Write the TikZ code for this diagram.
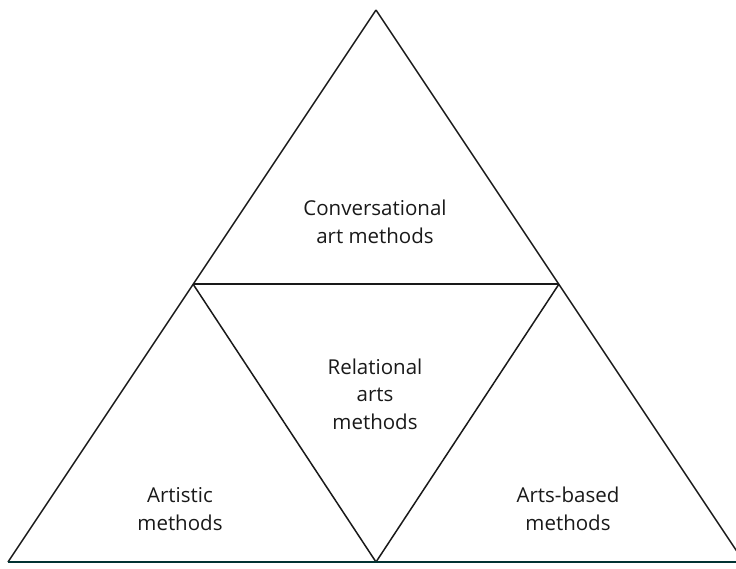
\documentclass[tikz,border=0pt]{standalone}
\usepackage{fontspec}
\setmainfont{Open Sans}
\tikzset{
  edge/.style={line width=1.5pt, color=black!90},
  base/.style={line width=2.2pt, color=teal!40!black},
  label/.style={align=center, font=\fontsize{20.5}{27.5}\selectfont, text=black!90}
}
\begin{document}
\begin{tikzpicture}[x=1pt,y=-1pt]
  \useasboundingbox (0,0) rectangle (736,568);
  \begin{scope}
  \clip (0,0) rectangle (736,568);
  \coordinate (T) at (376,10);
  \coordinate (L) at (8,562);
  \coordinate (R) at (744,562);
  \coordinate (ML) at (193,284);
  \coordinate (MR) at (559,284);
  \coordinate (MB) at (376,562);
  \draw[edge] (L) -- (T);
  \draw[edge] (T) -- (R);
  \draw[edge] (ML) -- (MR);
  \draw[edge] (ML) -- (MB);
  \draw[edge] (MR) -- (MB);
  \draw[base] (L) -- (R);
  \end{scope}
  \node[label] (conv) at (375,222) {Conversational\\art methods};
  \node[label] (rel) at (375,394) {Relational\\arts\\methods};
  \node[label] (art) at (180,509) {Artistic\\methods};
  \node[label] (based) at (568,509) {Arts-based\\methods};
\end{tikzpicture}
\end{document}
